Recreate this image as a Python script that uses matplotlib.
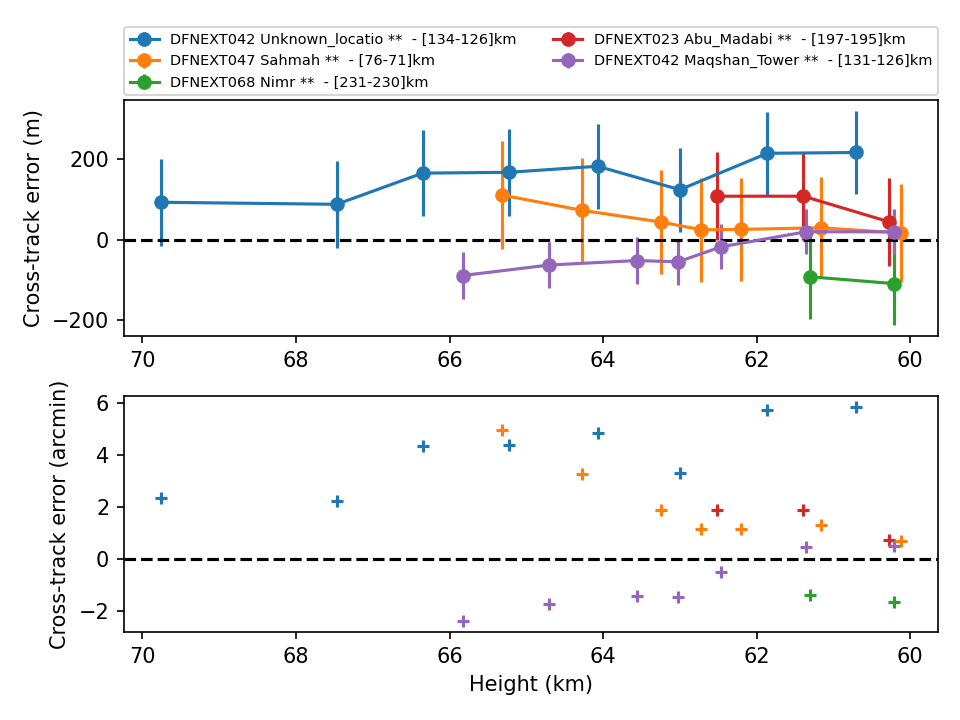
import matplotlib
matplotlib.use("Agg")
import matplotlib.pyplot as plt

labels = [
    "DFNEXT042 Unknown_locatio **  - [134-126]km",
    "DFNEXT047 Sahmah **  - [76-71]km",
    "DFNEXT068 Nimr **  - [231-230]km",
    "DFNEXT023 Abu_Madabi **  - [197-195]km",
    "DFNEXT042 Maqshan_Tower **  - [131-126]km",
]

# heights (km)
h_unknown = [69.76, 67.47, 66.35, 65.23, 64.07, 63.00, 61.86, 60.70]
h_sahmah = [65.32, 64.27, 63.24, 62.72, 62.20, 61.16, 60.12]
h_nimr = [61.31, 60.21]
h_abu = [62.51, 61.39, 60.28]
h_maqshan = [65.83, 64.70, 63.56, 63.02, 62.46, 61.36, 60.21]

# cross-track error (m)
ct_unknown = [92, 87, 164, 166, 181, 123, 213, 215]
ct_sahmah = [110, 72, 43, 24, 25, 29, 16]
ct_nimr = [-92, -109]
ct_abu = [107, 107, 44]
ct_maqshan = [-89, -63, -52, -55, -18, 19, 19]

# uncertainty (m)
err_unknown = [108, 107, 107, 107, 105, 104, 103, 103]
err_sahmah = [133, 129, 129, 128, 128, 125, 121]
err_nimr = [105, 103]
err_abu = [109, 109, 109]
err_maqshan = [57, 58, 57, 57, 56, 56, 56]

# cross-track error (arcmin)
am_unknown = [2.36, 2.21, 4.32, 4.39, 4.82, 3.32, 5.73, 5.84]
am_sahmah = [4.94, 3.28, 1.87, 1.14, 1.14, 1.29, 0.69]
am_nimr = [-1.39, -1.66]
am_abu = [1.87, 1.87, 0.73]
am_maqshan = [-2.40, -1.74, -1.43, -1.47, -0.51, 0.45, 0.51]

heights = [h_unknown, h_sahmah, h_nimr, h_abu, h_maqshan]
errors_m = [ct_unknown, ct_sahmah, ct_nimr, ct_abu, ct_maqshan]
sigmas = [err_unknown, err_sahmah, err_nimr, err_abu, err_maqshan]
errors_am = [am_unknown, am_sahmah, am_nimr, am_abu, am_maqshan]
colors = ["C0", "C1", "C2", "C3", "C4"]

fig, (ax1, ax2) = plt.subplots(2, 1, figsize=(6.4, 4.8), dpi=150)
fig.subplots_adjust(left=0.129, right=0.977, top=0.861, bottom=0.122, hspace=0.255)

for h, e, s, c, lab in zip(heights, errors_m, sigmas, colors, labels):
    ax1.errorbar(h, e, yerr=s, fmt="o-", color=c, label=lab)
ax1.axhline(0, color="k", linestyle="--")
ax1.set_ylabel("Cross-track error (m)")
ax1.invert_xaxis()
ax1.legend(bbox_to_anchor=(0, 1.02, 1, 0.2), loc="lower left", mode="expand",
           ncol=2, fontsize="x-small", borderaxespad=0)

for h, a, c in zip(heights, errors_am, colors):
    ax2.scatter(h, a, marker="+", color=c)
ax2.axhline(0, color="k", linestyle="--")
ax2.set_ylabel("Cross-track error (arcmin)")
ax2.set_xlabel("Height (km)")
ax2.invert_xaxis()

plt.savefig("out.png")
